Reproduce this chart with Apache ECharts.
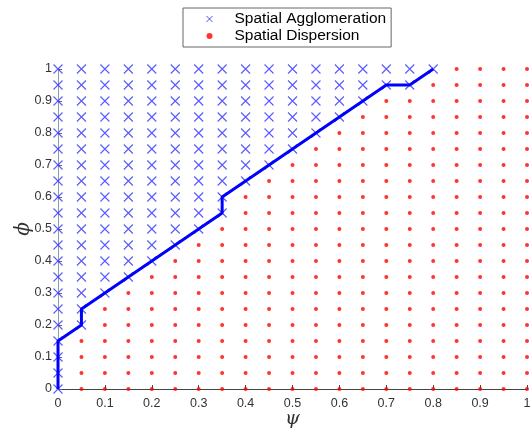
<!DOCTYPE html>
<html>
<head>
<meta charset="utf-8">
<script src="https://cdn.jsdelivr.net/npm/echarts@6/dist/echarts.min.js"></script>
<style>html,body{margin:0;padding:0;background:#fff}#c{width:532px;height:439px}</style>
</head>
<body>
<div id="c"></div>
<script>
// grid values of psi (columns) and phi (rows)
var psiValues = [0,0.05,0.1,0.15,0.2,0.25,0.3,0.35,0.4,0.45,0.5,0.55,0.6,0.65,0.7,0.75,0.8,0.85,0.9,0.95,1];
var phiValues = [0,0.05,0.1,0.15,0.2,0.25,0.3,0.35,0.4,0.45,0.5,0.55,0.6,0.65,0.7,0.75,0.8,0.85,0.9,0.95,1];
// lowest phi in each psi column classified as agglomeration (null = none)
var agglomerationFrom = [0,0.2,0.3,0.35,0.4,0.45,0.5,0.55,0.65,0.7,0.75,0.8,0.85,0.9,0.95,0.95,1,null,null,null,null];
// boundary line
var boundaryPsi = [0,0,0.05,0.05,0.1,0.15,0.2,0.25,0.3,0.35,0.35,0.4,0.45,0.5,0.55,0.6,0.65,0.7,0.75,0.8];
var boundaryPhi = [0,0.15,0.2,0.25,0.3,0.35,0.4,0.45,0.5,0.55,0.6,0.65,0.7,0.75,0.8,0.85,0.9,0.95,0.95,1];
var xTicks = [0,0.1,0.2,0.3,0.4,0.5,0.6,0.7,0.8,0.9,1];
var yTicks = [0,0.1,0.2,0.3,0.4,0.5,0.6,0.7,0.8,0.9,1];

var agg = [], disp = [];
psiValues.forEach(function(p, i){
  phiValues.forEach(function(f){
    var t = agglomerationFrom[i];
    if (t !== null && f >= t - 1e-9) agg.push([p, f]); else disp.push([p, f]);
  });
});
var line = boundaryPsi.map(function(p, i){ return [p, boundaryPhi[i]]; });

var font = 'Liberation Sans, Arial, sans-serif';
var chart = echarts.init(document.getElementById('c'));
chart.setOption({
  animation: false,
  grid: {left: 58, right: 5, top: 69, bottom: 50, containLabel: false, outerBoundsMode: 'none'},
  legend: {
    orient: 'vertical', left: 183, top: 8, width: 208,
    padding: [3, 5, 3, 23], itemGap: 1, itemWidth: 6, itemHeight: 6,
    borderColor: '#666', borderWidth: 1, backgroundColor: '#fff',
    textStyle: {fontFamily: font, fontSize: 15.5, color: '#000', padding: [0,0,0,17]},
    data: [
      {name: 'Spatial Agglomeration', icon: 'path://M0,0L10,10M10,0L0,10', itemStyle: {color: 'rgba(0,0,0,0)', borderColor: '#2222ff', borderWidth: 1}},
      {name: 'Spatial Dispersion', icon: 'circle', itemStyle: {color: '#ff0000'}}
    ]
  },
  xAxis: {
    type: 'value', min: 0, max: 1, interval: 0.1,
    name: 'ψ', nameLocation: 'middle', nameGap: 21, nameMoveOverlap: false,
    nameTextStyle: {fontFamily: 'DejaVu Serif, serif', fontStyle: 'italic', fontSize: 19, color: '#333'},
    axisLine: {lineStyle: {color: '#444', width: 1}},
    axisTick: {inside: true, length: 4, lineStyle: {color: '#444'}},
    axisLabel: {fontFamily: font, fontSize: 12.5, color: '#333', margin: 8,
      formatter: function(v){ return String(Math.round(v*10)/10); }},
    splitLine: {show: false}
  },
  yAxis: {
    type: 'value', min: 0, max: 1, interval: 0.1,
    name: 'ϕ', nameLocation: 'middle', nameGap: 24, nameRotate: 90, nameMoveOverlap: false,
    nameTextStyle: {fontFamily: 'DejaVu Serif, serif', fontStyle: 'italic', fontSize: 20, color: '#333'},
    axisLine: {show: true, lineStyle: {color: '#999', width: 1}},
    axisTick: {show: true, inside: true, length: 4, lineStyle: {color: '#666'}},
    axisLabel: {fontFamily: font, fontSize: 12.5, color: '#333', margin: 6,
      formatter: function(v){ return String(Math.round(v*10)/10); }},
    splitLine: {show: false}
  },
  series: [
    {
      name: 'Spatial Agglomeration', type: 'scatter', data: agg,
      symbol: 'path://M0,0L10,10M10,0L0,10', symbolSize: 9,
      itemStyle: {color: 'rgba(0,0,0,0)', borderColor: '#3030ff', borderWidth: 1.1},
      z: 2
    },
    {
      name: 'Spatial Dispersion', type: 'scatter', data: disp,
      symbol: 'circle', symbolSize: 4,
      itemStyle: {color: '#ff0000'},
      z: 2
    },
    {
      name: 'boundary', type: 'line', data: line, showSymbol: false, symbol: 'none',
      lineStyle: {color: '#0000ff', width: 3}, z: 5
    }
  ]
});
</script>
</body>
</html>
